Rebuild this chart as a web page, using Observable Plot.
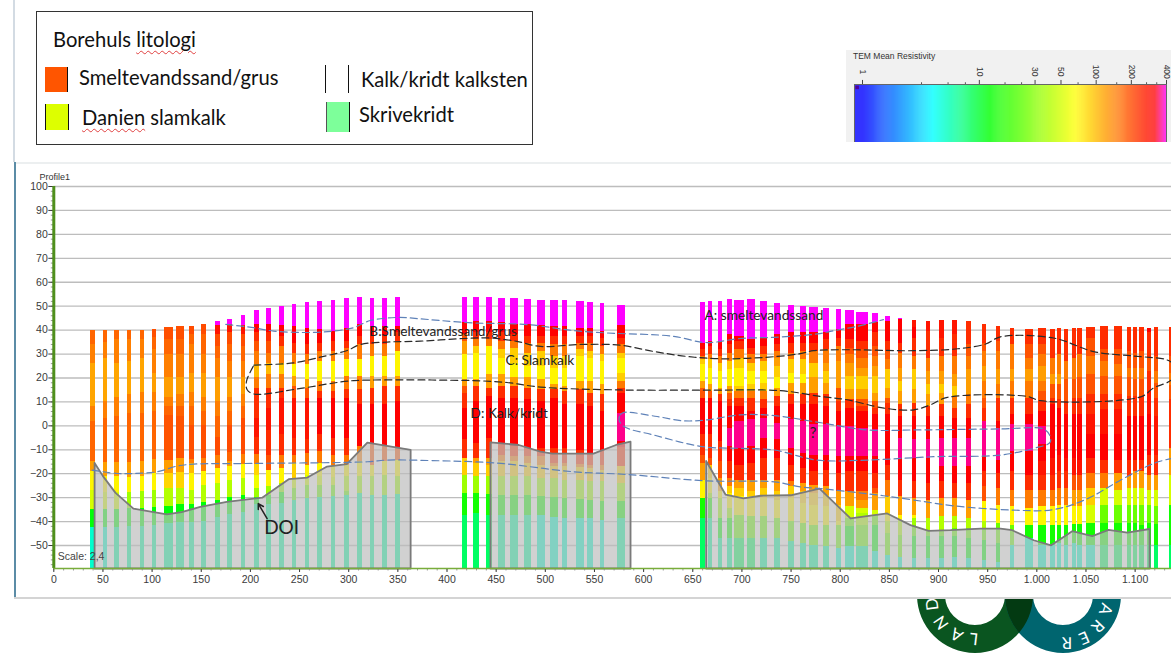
<!DOCTYPE html>
<html lang="da">
<head>
<meta charset="utf-8">
<script src="https://cdn.jsdelivr.net/npm/d3@7"></script>
<script src="https://cdn.jsdelivr.net/npm/@observablehq/plot@0.6"></script>
<style>
  html, body { margin: 0; padding: 0; background: #fff; overflow: hidden; }
  #page { position: relative; width: 1171px; height: 654px; overflow: hidden; }
  .lg { position: absolute; font-family: Lato, "Noto Sans", sans-serif; font-size: 20.2px; color: #111; white-space: nowrap; line-height: 1; transform: translateY(-50%); }
  .sq { text-decoration: underline wavy #e04040 1px; text-underline-offset: 3px; }
  .sw { position: absolute; box-sizing: border-box; }
  #chart { position: absolute; left: 0; top: 162px; width: 1171px; }
  #chart svg, #bar svg { display: block; background: transparent; }
  #bar { position: absolute; left: 846px; top: 50px; width: 325px; height: 92px; background: #f1f1f1; }
  #barTitle { position: absolute; left: 7px; top: 1px; font: 8.5px "Liberation Sans", sans-serif; color: #333; }
</style>
</head>
<body>
<div id="page">
  <div style="position:absolute;left:13px;top:0;width:1.5px;height:162px;background:#d3dbe3"></div>
  <div style="position:absolute;left:14px;top:162px;width:1157px;height:2px;background:#eceff0"></div>
  <div style="position:absolute;left:36px;top:11px;width:497px;height:134px;border:1px solid #333;box-sizing:border-box"></div>
  <div class="lg" style="left:53px;top:39px">Borehuls <span class="sq">litologi</span></div>
  <div class="sw" style="left:45px;top:67px;width:23px;height:25px;background:#ff5500;border-right:1.5px solid #111"></div>
  <div class="lg" style="left:79px;top:77px">Smeltevandssand/grus</div>
  <div class="sw" style="left:45px;top:104px;width:24px;height:26px;background:#ddff00;border-left:1.5px solid #111;border-right:1.5px solid #111"></div>
  <div class="lg" style="left:82px;top:117px"><span class="sq">Danien</span> slamkalk</div>
  <div class="sw" style="left:325px;top:65px;width:24px;height:28px;border-left:1.5px solid #111;border-right:1.5px solid #111"></div>
  <div class="lg" style="left:361px;top:79px">Kalk/kridt kalksten</div>
  <div class="sw" style="left:326px;top:102px;width:24px;height:30px;background:#7dff9a;border-right:1.5px solid #111;border-left:1px solid #555"></div>
  <div class="lg" style="left:359px;top:114px">Skrivekridt</div>
  <div id="bar"><div id="barTitle">TEM Mean Resistivity</div></div>
  <div id="chart"></div>
  <svg id="logo" width="1171" height="654" style="position:absolute;left:0;top:0;pointer-events:none">
    <defs>
      <clipPath id="below"><rect x="0" y="597" width="1171" height="57"/></clipPath>
      <clipPath id="inTeal"><circle cx="1063" cy="595" r="58"/></clipPath>
      <path id="ringL" d="M 975 639 A 44 44 0 1 1 975.01 639"/>
      <path id="ringR" d="M 1107 595 A 44 44 0 1 1 1106.99 594.9"/>
    </defs>
    <g clip-path="url(#below)">
      <path fill="#0a5520" fill-rule="evenodd" d="M917 595a58 58 0 1 0 116 0a58 58 0 1 0-116 0zM945 595a30 30 0 1 0 60 0a30 30 0 1 0-60 0z"/>
      <path fill="#00656f" fill-rule="evenodd" d="M1005 595a58 58 0 1 0 116 0a58 58 0 1 0-116 0zM1033 595a30 30 0 1 0 60 0a30 30 0 1 0-60 0z"/>
      <g clip-path="url(#inTeal)"><path fill="#033a12" fill-rule="evenodd" d="M917 595a58 58 0 1 0 116 0a58 58 0 1 0-116 0zM945 595a30 30 0 1 0 60 0a30 30 0 1 0-60 0z"/></g>
      <text font-family="Lato, sans-serif" font-size="16.5" fill="#fff" letter-spacing="8" dominant-baseline="central"><textPath href="#ringL" startOffset="-3">LAND</textPath></text>
      <text font-family="Lato, sans-serif" font-size="16.5" fill="#fff" letter-spacing="8" dominant-baseline="central"><textPath href="#ringR" startOffset="9">ARER</textPath></text>
    </g>
  </svg>
</div>
<script>
const yFloor = -59.6;
const xTicks = [0,50,100,150,200,250,300,350,400,450,500,550,600,650,700,750,800,850,900,950,1000,1050,1100];
const yTicks = [-50,-40,-30,-20,-10,0,10,20,30,40,50,60,70,80,90,100];
const barTicks = [1,10,30,50,100,200,400];
const barMinor = [3.2,5.4,7.6,16.6,23,70,150,270,330];
const resDomain = [1,4,12.4,66,317,400];
const resRange = ["#0000ff","#00ffff","#00ff00","#ffff00","#ff0000","#ff00ff"];

const soundingX = [40,52.6,64.5,77,90,102.4,117,128.6,140.4,153,166.8,179.4,193,206.5,219,232,245,258,271,284.5,298,311.7,324,337,350,
  418,430,443,456,469,482,496,509,520,535.5,546,558,577.5,
  660.6,667.7,678,688,697.5,709.5,722.7,736,750.6,762.7,773.5,786,799,809.7,822.4,835.9,
  848.4,861.7,875.3,889.8,903.3,917,931,946.8,961.3,975.6,992.6,1006,1016.7,1023,1030,1038,1043.7,1055.3,1069,1083.4,1094,1100,1107,1114.6,1121.8,1137];
const soundingWidth = [4.6,4.6,4.6,4.6,4.6,4.6,9,8,4.6,4.6,4.6,4.6,4.6,4.6,4.6,4.6,4.6,4.6,4.6,4.6,4.6,4.6,4.6,4.6,4.6,
  4.7,6,5.7,6.7,8,7.3,8,8,4.5,8,6,4.7,8,
  4.7,4,4,4.7,9.3,8,6.7,6.7,6,5.3,8.7,6.7,5.3,9.3,12,5.3,
  4.7,4,4,4.7,4.7,4.7,4.7,4.7,4.3,4.3,8.3,8.7,4.7,4,4.3,4.3,4.7,8.7,8,8,4,4,4.7,4.7,4.7,5];
const soundingTop = [40,40,40,40,40,40.4,41,41.5,41.5,42.5,43.5,44.5,46,48,49,49.9,50.7,51.4,51.8,52.5,53,53.5,53,53,53.5,
  53.8,53.8,53.8,53.2,53.2,52.8,52.5,52.5,52.4,52.1,51.7,51.1,50.4,
  51.4,52,52,52.7,52.4,52.7,51.8,51,50.4,49.7,49.3,49,48.6,48.2,47.4,46.8,
  45.7,44.8,44.1,43.7,44.1,44.1,43.4,42.3,41.5,40.6,40.4,40.6,40.2,40.6,40.2,40.6,40.6,40.9,41.5,41.5,41,40.9,41,40.6,40.9,40.9];
// each row: resistivity, bottom elevation, resistivity, bottom elevation, ..., last resistivity (down to the section floor)
const soundingBands = [
 [170,34,145,26,115,8,145,2,170,-15,120,-19,70,-27,50,-35,12,-42.5,5],
 [170,35,145,28,115,10,145,3,170,-15.5,120,-21,70,-28,50,-35,12,-42.5,5],
 [170,36,145,26,115,12,145,4,170,-15.5,120,-21,70,-28,50,-35,12,-42.5,6],
 [170,36,145,27,115,13,145,5,170,-15.5,120,-21.5,70,-28,35,-34.5,12,-42,6],
 [170,36,145,28,115,14,145,5,170,-15,120,-21,70,-27.5,35,-34.5,12,-42,6],
 [195,37,170,32,145,22,120,14,145,6,170,-14,120,-20,70,-27,35,-34,12,-41.5,6],
 [195,36,170,30,145,20,120,12,145,8,170,4.5,190,-14.3,120,-20,85,-26,40,-33.5,12,-41,6],
 [195,36,170,30,145,20,120,13,145,8,175,4,190,-13.6,120,-19.6,85,-26,40,-33,12,-40.4,6],
 [200,38,170,34,145,22,120,14,145,8,170,0,195,-14,145,-15.7,100,-20,70,-27,40,-33,12,-40.5,6],
 [200,38,170,30,145,22,120,12,145,6,170,0,195,-13.6,145,-19,70,-25,40,-32,12,-40,6],
 [400,42,280,38,200,33,170,28,145,20,120,10,145,4,170,-5,200,-12.5,145,-18,70,-24,40,-31,12,-38.5,6],
 [400,42.5,280,39,200,34,170,27,145,20,120,12,145,6,170,0,200,-11,170,-15,120,-17,70,-23,40,-30,12,-37,6],
 [400,42,280,38,200,33,170,27,145,20,120,13,145,8,170,3,200,-12,145,-16,70,-22,40,-29,12,-36,6],
 [400,42.3,317,38.8,240,35.3,190,31,150,25.5,100,20,150,15.8,240,3,280,-5,240,-12,150,-16,85,-20.6,60,-26,35,-30,12,-33,6],
 [400,42.3,317,38.8,240,35.3,190,30.4,150,26.2,100,21.4,150,15.8,240,7.4,280,-2,240,-12.2,190,-18.8,70,-25.5,35,-29,12,-33,6],
 [400,42,317,37.4,240,33.2,150,26.2,90,21.4,150,15.8,240,11.6,280,-3.8,240,-12.2,150,-17.8,70,-24,35,-28,12,-32.5,6],
 [400,41.6,317,34.6,240,30.4,150,25.5,70,20.7,120,16.5,190,11.6,280,-5.2,240,-12.2,150,-15.7,90,-22,50,-26,25,-31,6],
 [400,40.6,317,34,240,29.7,150,25.5,70,19.3,120,15.8,190,11.6,280,-5.9,240,-11.5,150,-16.4,70,-20.6,50,-24.8,25,-30.4,6],
 [400,40.2,317,34.6,240,31.1,150,26.9,70,18.6,150,14.4,240,11.6,317,-3.8,240,-10.8,150,-15.7,70,-21.3,50,-24.8,25,-30,6],
 [400,39.5,317,35.3,240,31.1,150,26.9,70,18.6,150,14.4,240,11.6,317,-5.2,240,-12.2,150,-16.4,70,-21.5,50,-25,25,-29.5,6],
 [400,40.6,317,35.3,240,32.5,150,27.6,70,20.7,150,15,240,11.6,317,-5.2,240,-12.2,150,-16.4,70,-21.3,40,-27.6,25,-29,6],
 [400,42.3,317,37.4,240,33.9,150,27.6,70,20.7,150,15,240,8.8,317,-8.7,150,-15,70,-21.3,35,-28.3,6],
 [400,41.6,317,37.4,240,33.9,150,29,70,20.7,120,15.8,240,8.8,317,-8,190,-16.4,70,-21.3,35,-29,6],
 [400,41.6,317,37.4,240,33.9,150,29,70,20.7,120,16.5,240,8.8,317,-8.7,190,-15,70,-20.6,35,-29,6],
 [400,41.6,317,38.8,240,35.3,150,31.1,70,20.7,120,16.5,240,10.2,317,-9.4,190,-14.3,70,-21.3,35,-28.7,6],

 [400,43,317,38,190,35.3,120,29.7,70,19.3,120,16.5,190,13.7,240,7.4,317,-5.9,240,-13.6,90,-20.6,35,-28.3,14,-37.3,8],
 [400,43.4,317,38.8,240,36,150,33.2,90,30.4,70,19.3,120,16.5,240,10.2,317,-7.3,240,-13.6,120,-15.7,90,-21.3,35,-28.3,14,-36.6,8],
 [400,43.4,317,38.8,240,36,150,33.2,70,21.4,120,15.8,240,12.3,317,-5.2,240,-13.6,120,-16.4,90,-21.3,35,-28.7,14,-37.3,8],
 [400,43,317,38.8,240,35.3,150,31.8,90,28.3,70,21.4,120,16.5,240,11.6,317,-8,240,-12.2,150,-15,90,-21.3,35,-29,14,-37.3,6],
 [400,42.3,317,38.1,240,35.3,150,32.5,90,26.2,70,20,120,16.5,240,11.6,317,-8.7,240,-12.9,150,-15,90,-21.3,35,-29,14,-37.3,6],
 [400,42.3,317,37.4,240,34.6,150,30.4,90,24.8,70,20,120,15.8,240,10.9,317,-9.4,240,-12.9,150,-15.7,90,-21.3,35,-29.2,14,-37.3,6],
 [400,42,317,37.4,240,34.6,150,31.1,90,24.8,70,19.3,120,15,240,10.2,317,-9.4,240,-12.9,150,-16.4,90,-22,35,-29.7,14,-37.6,5],
 [400,41.6,317,37.4,240,33.9,150,29,90,24.1,70,17.2,120,15,240,11.6,317,-9.4,240,-15.7,150,-17.1,90,-22,35,-30,14,-38.5,5],
 [400,41.6,317,37.4,240,33.9,150,29,90,24.1,70,16.5,120,14.4,240,8.8,317,-9.4,240,-15.7,150,-17.1,90,-22.7,35,-30.4,14,-38.7,5],
 [400,40.6,317,37.4,240,34.6,150,31.8,90,29,70,18.6,120,15,240,8.8,317,-10.1,240,-16.1,150,-17.5,90,-22.7,35,-30.6,14,-38.7,5],
 [400,40.6,317,37.4,240,34.6,150,31.1,90,28.3,70,18.6,120,13.7,240,8.1,317,-11.5,240,-16.4,150,-17.8,90,-23.4,35,-31,14,-38.7,5],
 [400,39.5,317,36.7,240,33.2,150,29.7,90,26.9,70,17.2,120,13,240,6,317,-10.8,240,-16.4,150,-18.5,90,-23.4,35,-31.8,14,-39.4,5],
 [400,41.9,317,36.7,240,33.9,150,30.4,90,28.3,70,22,90,18.6,150,15.8,240,13.7,317,5.3,360,-6.6,317,-9,240,-17,90,-24,35,-31.8,14,-38.7,6],

 [400,34.6,317,31.9,240,29,150,27.6,90,25.8,70,18.6,120,15.8,190,11.6,317,-3.8,240,-12.2,190,-15.7,120,-22.7,70,-30.3,14,-38.7,8],
 [400,35.3,317,33.2,240,29.7,150,27.6,90,24.1,70,17.2,120,14.4,190,11.6,317,-3.8,240,-13.6,190,-16.4,90,-22,70,-28.3,35,-30.4,14,-38.7,6],
 [400,35.3,317,31.9,240,29,150,26.2,90,22.8,70,15.8,120,13,240,10.2,317,-6.6,240,-15,190,-22,120,-27.6,70,-30.4,35,-38.7,12,-47.1,6],
 [400,38.1,317,33.9,240,30.4,150,26.9,90,23.5,70,16.5,120,13.7,190,10.9,240,8.1,317,-1,360,-8.7,317,-15,240,-22,150,-25.5,90,-28.3,70,-34.5,35,-38.7,14,-47.1,6],
 [400,37.4,317,35.3,240,31.8,150,28.3,90,24.1,70,16.5,90,14.4,150,11.6,240,8.1,317,1.8,360,-9.4,317,-16.4,240,-22.7,120,-26.2,90,-29.7,70,-37.6,25,-47.1,8],
 [400,36,317,32.5,240,29.7,150,26.2,90,22.8,70,17.2,90,14.4,150,11.6,240,6,317,2.5,360,-8.7,317,-15.7,240,-22.7,120,-27.6,90,-29.7,70,-38,25,-47.1,8],
 [400,36.7,317,33.2,240,29.7,150,26.9,90,22.8,70,17.9,90,14.4,150,10.9,240,7.4,317,3.2,360,-5.2,317,-13.6,240,-22.7,120,-26.2,90,-30.4,70,-38,25,-47.1,6],
 [400,38.1,317,33.9,240,31.1,150,28.3,120,24.8,90,20,70,15.8,120,12.3,240,8.1,317,1.1,360,-5.9,317,-13.6,240,-22.7,120,-27.6,90,-31.1,70,-38.7,25,-47.1,6],
 [400,38.8,317,34.6,240,30.4,150,27.6,90,22,70,17.9,120,13,240,8.8,317,2.5,360,-9.4,317,-16.4,240,-23.4,150,-25.5,90,-30.4,70,-40.1,25,-48.5,6],
 [400,38.8,317,34.6,240,31.1,150,27.6,90,21.4,70,17.9,120,13,240,8.8,317,1.8,360,-11.5,317,-17.8,240,-24.1,120,-27.6,90,-32.5,70,-40.8,25,-49.2,6],
 [400,38.8,317,34.6,240,31.1,150,26.2,90,20,120,13.7,240,8.8,317,0.4,360,-12.2,317,-19.2,240,-24.8,120,-28.3,90,-33.2,70,-41.5,25,-49.9,6],
 [400,38.8,317,36,240,31.8,150,26.2,120,22.8,90,17.9,120,13,240,8.1,317,0.4,360,-12.2,317,-18.5,240,-25.5,120,-29,90,-33.9,70,-41.5,25,-50.6,6],
 [400,40.2,317,36.7,240,33.2,150,26.9,120,15.8,190,10.2,240,6,317,-0.3,360,-12.9,317,-19.9,240,-27.6,120,-33.2,90,-40.1,70,-41.5,25,-51.3,5],
 [400,42.3,317,36,240,32.5,190,29.7,150,26.2,120,20.7,90,15,120,10.9,240,7.4,317,-0.3,360,-12.9,317,-19.2,240,-27.6,120,-33.9,50,-38.7,25,-42.2,12,-50.6,5],
 [400,42.3,317,35.3,240,31.8,190,28.3,150,24.1,120,20.7,90,15,120,10.9,190,8.1,240,6,317,-1,360,-12.9,317,-19.2,240,-27.6,150,-31.1,120,-34.6,50,-36.6,40,-41.5,25,-50.6,6],
 [400,43,317,38.8,240,33.2,190,29,150,24.8,120,20.7,90,13.7,120,10.2,190,7.4,240,4.6,317,-1.7,360,-12.9,317,-19.9,240,-26.2,190,-28.3,120,-35.3,50,-37.3,25,-41.5,12,-52.7,5],

 [400,43.7,317,35.3,240,31.1,190,27.6,150,23.4,90,15.8,120,11.6,190,9.5,240,4.6,317,-16.4,240,-22.7,150,-29.7,90,-36.6,70,-40.1,40,-45,25,-54.1,5],
 [400,44.4,317,34.6,240,30.4,150,24.1,120,18.6,90,14.4,120,8.8,240,3.9,317,-5.2,360,-13.6,317,-22.7,240,-29.7,120,-37.3,70,-39.4,40,-45.7,25,-54.8,5],
 [280,40.9,317,36.7,240,29,150,23.4,90,15,120,9.5,240,3.9,317,-5.9,360,-13.6,317,-23.4,240,-30.4,120,-37.3,70,-38.7,35,-41.5,25,-46.4,12,-55.5,5],
 [280,39.5,240,28.3,150,22.7,120,17.2,90,13,120,8.1,240,3.9,317,-5.9,360,-13.6,317,-24.1,240,-31.1,120,-38.7,40,-43.6,25,-46.4,12,-55.5,5],
 [280,36.7,240,29,150,22.7,120,17.2,90,13.7,120,8.8,240,3.9,317,-5.2,360,-17.1,317,-23.4,240,-30.4,120,-38,40,-43.6,25,-46.4,12,-55.5,5],
 [280,38.1,240,29,150,21.4,120,16.5,90,12.3,150,7.4,240,3.2,317,-5.2,360,-17.1,317,-24.1,240,-30.4,120,-38,40,-42.9,25,-46.4,12,-54.8,5],
 [240,33.9,190,29,150,23.4,120,13,150,8.8,240,3.2,317,-5.2,360,-17.1,317,-24.1,240,-31.1,120,-38.7,40,-42.9,25,-47.1,12,-55.5,5],
 [240,34.6,190,31.1,150,24.8,120,18.6,150,11.6,190,7.4,240,1.8,360,-12.9,317,-19.2,240,-25.5,190,-31.8,70,-40.1,40,-42.9,25,-47.8,12,-56.2,5],
 [240,35.3,190,31.1,150,23.4,120,17.2,150,11.6,240,1.8,317,-1,360,-14.3,317,-19.9,240,-26.2,150,-33.2,70,-40.8,25,-49.2,12,-56.9,5],
 [240,33.9,150,23.4,120,18.6,150,11.6,240,4.6,317,0.4,360,-10.8,317,-19.2,240,-26.9,150,-33.9,70,-41.5,25,-49.9,5],
 [240,33.9,190,28.3,150,23.4,120,18.6,150,11.6,240,4.6,317,0.4,360,-10.8,317,-20.6,240,-26.9,150,-34.6,70,-41.5,14,-47.1,5],
 [240,33.9,190,29.7,150,24.8,120,18.6,150,14.4,190,10.2,240,6,317,-0.3,360,-8,317,-15,280,-20.6,240,-26.9,150,-33.9,70,-41.5,14,-49.9,5],
 [240,28.3,150,21.4,120,17.2,190,11.6,240,8.8,317,-13.6,280,-20.6,240,-26.9,150,-33.9,70,-41.5,14,-49.9,5],
 [240,29.7,150,21.4,120,17.2,190,10.9,240,7.4,317,-12.2,280,-19.2,240,-26.2,150,-33.2,70,-41.5,14,-49.2,5],
 [240,26.9,150,19.3,190,10.2,240,4.6,317,-13.6,280,-19.2,240,-26.2,150,-33.2,70,-41.5,14,-49.9,5],
 [240,28.3,150,19.3,190,11.6,240,4.6,317,-13.6,280,-20.6,190,-26.9,120,-33.9,70,-41.2,14,-49.2,5],
 [240,29.7,150,20,190,11.6,240,4.6,317,-14.3,280,-20.6,190,-26.9,120,-33.9,70,-41.2,14,-49.9,5],
 [240,36.7,190,29,150,21.4,190,13,240,4.6,280,-3.8,317,-13.6,240,-19.9,150,-26.2,90,-33.2,50,-40.8,14,-49.9,5],
 [240,31.8,190,26.9,150,20.7,190,13,240,6.7,280,-3.8,317,-14.3,240,-19.9,150,-26.2,50,-33.2,25,-40.8,14,-49.9,8],
 [240,31.8,190,25.5,150,20.7,190,13,240,6.7,280,-3.8,317,-14.3,240,-19.9,120,-26.9,50,-33.2,25,-40.8,14,-49.9,8],
 [240,31.1,190,24.1,150,20,190,12.3,240,3.9,317,-14.3,240,-21.3,120,-26.2,50,-33.2,25,-40.8,14,-49.9,8],
 [240,30.4,190,24.1,150,19.3,190,12.3,240,3.9,317,-14.3,240,-19.2,120,-26.2,50,-33.2,25,-40.8,14,-49.9,8],
 [240,31.1,190,24.1,150,19.3,190,12.3,240,3.9,317,-14.3,240,-19.2,120,-26.2,50,-33.2,25,-41.5,14,-49.9,8],
 [317,38.8,240,28.3,190,22.7,240,14.4,280,4.6,317,-12.2,240,-20.6,120,-26.9,50,-33.2,25,-40.8,14,-49.9,8],
 [240,29,190,22.7,150,17.9,190,11.6,240,3.9,280,-12.2,240,-20.6,120,-26.9,50,-33.5,25,-41.2,14,-49.9,8],
 [240,29,190,22,150,17,190,11,240,-9.4,120,-20.6,50,-33.2,14,-49.9,8]
];

const doiA = [[41.5,-15.5],[50,-21],[62.8,-28],[81,-34.6],[115,-37],[130,-36],[149,-33.9],[176,-31.8],[212,-30],[239,-22.3],[258,-21.6],[278,-17],[298,-16],[319,-7],[363,-10]];
const doiB = [[444.2,-6.9],[473,-8],[495,-10.8],[507,-11.6],[549,-11.6],[572,-8],[586.7,-6.6]];
const doiC = [[663.6,-14.7],[683.3,-28.7],[701.7,-30.3],[719,-29.2],[749.6,-29],[779,-26.2],[810.5,-38.7],[847.8,-36.6],[871.5,-41.5],[890,-43.9],[912.2,-43.6],[943,-42.9],[963,-42.9],[975,-43.6],[996.8,-47.8],[1014.6,-49.9],[1036,-44],[1056.4,-46.1],[1073,-43.5],[1092,-44.6],[1114.7,-43.1]];

const blueUpper = [[175,42.4],[203,41],[223.6,39.6],[261,39],[284.7,39.6],[305,41],[322,44],[350,45.3],[373,44.7],[393,44],[427,43],[481.6,42.3],[529,39.8],[563,38.8],[630.6,37.4],[658,35],[671,34.9],[698,36.5],[733,37],[776.9,38.4],[790,39.5],[817.5,41.6],[844,44.4]];
const blackLoop = [[203.6,25.4],[243.8,26.3],[271,28.7],[298.5,31.5],[312,34],[339,35],[373,35.4],[417,36.5],[444,36.7],[471,35.3],[495,33.2],[536,34],[576,33.7],[610,31.1],[644,29],[681.5,28],[736,29],[759.5,30.2],[773,31.4],[803.4,31.8],[875,31.4],[919.6,32.2],[948,34.2],[963,37.2],[1017,36.7],[1058,31],[1098,29.2],[1132,27.6],[1138,26],[1138,19.7],[1118.6,15.8],[1105.7,12.1],[1003.8,10.5],[990,12.3],[909,11.9],[892,8.8],[875,6.7],[844.6,7.4],[807,10.9],[780,12.3],[739.4,14.7],[664.5,14.9],[576.5,15],[495,16.2],[461,18.1],[427,18.9],[393,19.1],[373,19.2],[305,18.9],[284.7,17.9],[247.6,15.4],[203.6,13.3],[196.7,15.1],[196,18.6],[203.6,25.4]];
const blueLower = [[39,-18.5],[64.5,-19.9],[81,-19.9],[105,-19.2],[125.5,-16.8],[142,-16],[203,-15.7],[319,-15],[339,-14.3],[393,-14.6],[427,-15],[458,-15.8],[529,-19.2],[583,-20.3],[664.5,-23],[733,-23.4],[759.5,-25.5],[780,-26.2],[844,-29.2],[875,-31],[915,-33.4],[976,-35.2],[1017,-35],[1051.6,-30.4],[1085,-22.7],[1119,-15.7],[1137,-13.6]];
const blueLoop = [[576,4.6],[580,5.6],[613.8,3.9],[640.8,2.1],[664.6,2.5],[698,4.6],[733,4.3],[773,1.8],[827.7,-1.7],[878.4,-1.7],[963,-1.3],[1006.6,-1.3],[1013,-3.8],[1013.5,-6.9],[996.8,-9.4],[963,-12.2],[895,-12.9],[827.7,-14.3],[776,-14.3],[733,-10.1],[698,-9.4],[660,-8.7],[610,-3.8],[580,-0.3],[575,2.5],[576,4.6]];

const labelText = ["A: smeltevandssand","B:Smeltevandssand/grus","C: Slamkalk","D: Kalk/kridt","?","DOI"];
const labelX = [662,321,459.5,424,769,214];
const labelY = [46,39.5,27.4,5.2,-3,-42.6];
const labelSize = [13.7,13.7,13.7,13.7,15,19];

const color = {type:"log", domain:resDomain, range:resRange, clamp:true};

const bands = soundingX.flatMap((x,i)=>{
  const w = soundingWidth[i], b = soundingBands[i], out = [];
  let top = soundingTop[i];
  for (let j=0;j<b.length;j+=2){
    const bottom = j+1<b.length ? b[j+1] : yFloor;
    out.push({x1:x-w/2,x2:x+w/2,y1:bottom,y2:top,res:b[j]});
    top = bottom;
  }
  return out;
});
const X = d=>d[0], Y = d=>d[1];
const closed = p=>[...p,[p[p.length-1][0],yFloor],[p[0][0],yFloor],p[0]];
const fmt = d=> d>=1000 ? d3.format(".3f")(d/1000) : String(d);
const gridCol = "#bdbdbd";
const doiFill = {x:X,y1:yFloor,y2:Y,fill:"#bcbcbc",fillOpacity:0.69};
const doiLine = {x:X,y:Y,stroke:"#7a7a7a",strokeWidth:1.8,strokeLinejoin:"round"};
const dashBlue = {x:X,y:Y,stroke:"#5f82b8",strokeWidth:1.2,strokeDasharray:"7,4",curve:"catmull-rom"};
const dashBlack = {x:X,y:Y,stroke:"#2a2a2a",strokeWidth:1.2,strokeDasharray:"7,4",curve:"catmull-rom"};

const chart = Plot.plot({
  width:1171, height:436,
  marginLeft:53.3, marginRight:0, marginTop:24, marginBottom:30,
  x:{domain:[0,1137]}, y:{domain:[yFloor,100]}, color,
  style:{fontFamily:"'Liberation Sans',sans-serif",color:"#3a3a3a",background:"transparent"},
  marks:[
    Plot.ruleY(yTicks,{stroke:gridCol,strokeWidth:1.3}),
    Plot.rect(bands,{x1:"x1",x2:"x2",y1:"y1",y2:"y2",fill:"res",shapeRendering:"crispEdges"}),
    Plot.areaY(doiA,doiFill), Plot.areaY(doiB,doiFill), Plot.areaY(doiC,doiFill),
    Plot.line(closed(doiA),doiLine), Plot.line(closed(doiB),doiLine), Plot.line(closed(doiC),doiLine),
    Plot.line(blueUpper,dashBlue), Plot.line(blueLower,dashBlue), Plot.line(blueLoop,dashBlue),
    Plot.line(blackLoop,dashBlack),
    Plot.axisY(d3.range(-58,100,2),{tickSize:2.5,tickFormat:()=>"",label:null,stroke:"#999"}),
    Plot.axisX(d3.range(0,1137,10),{tickSize:2.5,tickFormat:()=>"",label:null,stroke:"#999"}),
    Plot.axisY(yTicks,{tickSize:5,tickPadding:1,fontSize:10.5,label:null}),
    Plot.axisX(xTicks,{tickSize:4,tickPadding:3,fontSize:10.5,tickFormat:fmt,label:null}),
    Plot.ruleX([0],{stroke:"#4f8f1c",strokeWidth:3}),
    Plot.ruleY([yFloor],{stroke:"#79ad3a",strokeWidth:1.6}),
    Plot.text(labelText,{x:(d,i)=>labelX[i],y:(d,i)=>labelY[i],text:d=>d,fontSize:(d,i)=>labelSize[i],textAnchor:"start",fontFamily:"Lato, sans-serif",fill:"#222"}),
    Plot.arrow([[217,-38.8,208,-32.5]],{x1:d=>d[0],y1:d=>d[1],x2:d=>d[2],y2:d=>d[3],bend:false,stroke:"#222",strokeWidth:1.5,headLength:8}),
    Plot.text(["Scale: 2,4"],{x:4,y:-54.7,text:d=>d,fontSize:10.5,textAnchor:"start",fill:"#444"}),
    Plot.text(["Profile1"],{x:-14.5,y:104,text:d=>d,fontSize:9,textAnchor:"start",fill:"#333"})
  ]
});
document.getElementById("chart").appendChild(chart);

const barCells = d3.range(0,320).map(i=>({a:0.854*Math.pow(400/0.854,i/320),b:0.854*Math.pow(400/0.854,(i+1.5)/320)}));
const bar = Plot.plot({
  width:325, height:92,
  marginLeft:16, marginRight:5, marginTop:34, marginBottom:0,
  x:{type:"log",domain:[1,400],axis:null}, y:{domain:[0,1],axis:null}, color,
  style:{fontFamily:"'Liberation Sans',sans-serif",color:"#333",background:"transparent"},
  marks:[
    Plot.rect(barCells,{x1:"a",x2:"b",y1:0,y2:1,fill:"a"}),
    Plot.rect([0],{x1:0.854,x2:400,y1:0,y2:1,fill:"#fff",fillOpacity:0.2}),
    Plot.ruleX(barMinor,{y1:1,y2:1.03,stroke:"#555"}),
    Plot.ruleX(barTicks,{y1:1,y2:1.07,stroke:"#444"}),
    Plot.text(barTicks,{x:d=>d,y:1.22,text:d=>String(d),rotate:90,fontSize:8.5,fill:"#333"}),
    Plot.dot([0.9],{x:d=>d,y:0.95,symbol:"square",r:2,fill:"#50009a"})
  ]
});
document.getElementById("bar").appendChild(bar);
const barFrame = document.createElement("div");
barFrame.style.cssText="position:absolute;left:8px;top:34px;width:313px;height:58px;border:1px solid #666;border-bottom:0;box-sizing:border-box";
document.getElementById("bar").appendChild(barFrame);

const page = document.getElementById("page");
const line = (css)=>{const d=document.createElement("div");d.style.cssText="position:absolute;"+css;page.appendChild(d);};
line("left:14px;top:162px;width:1.6px;height:435px;background:#5b8ca6");
line("left:14px;top:597px;width:1157px;height:1.5px;background:#d4d4d4");
</script>
</body>
</html>
